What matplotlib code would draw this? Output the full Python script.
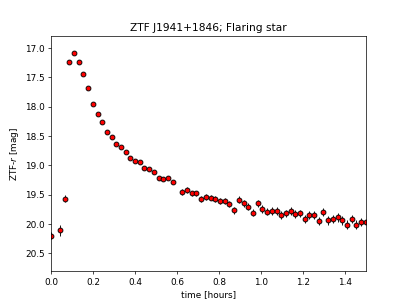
import matplotlib
matplotlib.use('Agg')
import matplotlib.pyplot as plt
import numpy as np

# light curve, time in hours since start
t_hours = [0.000, 0.043, 0.067, 0.088, 0.110, 0.133, 0.155, 0.177, 0.200, 0.222,
           0.244, 0.267, 0.289, 0.311, 0.334, 0.356, 0.378, 0.400, 0.423, 0.445,
           0.468, 0.490, 0.512, 0.535, 0.557, 0.579, 0.625, 0.648, 0.670, 0.692,
           0.714, 0.737, 0.760, 0.782, 0.804, 0.827, 0.849, 0.872, 0.894, 0.916,
           0.938, 0.961, 0.983, 1.006, 1.028, 1.050, 1.073, 1.095, 1.117, 1.140,
           1.162, 1.184, 1.207, 1.229, 1.251, 1.274, 1.296, 1.318, 1.341, 1.363,
           1.385, 1.408, 1.430, 1.452, 1.475, 1.497]
mag = [20.20, 20.11, 19.57, 17.23, 17.08, 17.23, 17.45, 17.68, 17.96, 18.13,
       18.26, 18.43, 18.51, 18.63, 18.69, 18.77, 18.87, 18.93, 18.95, 19.05,
       19.07, 19.12, 19.22, 19.23, 19.21, 19.28, 19.46, 19.42, 19.48, 19.48,
       19.58, 19.54, 19.55, 19.58, 19.61, 19.61, 19.66, 19.77, 19.59, 19.65,
       19.71, 19.81, 19.65, 19.74, 19.79, 19.78, 19.78, 19.85, 19.82, 19.78,
       19.83, 19.82, 19.92, 19.85, 19.85, 19.95, 19.80, 19.94, 19.92, 19.89,
       19.94, 20.01, 19.91, 20.01, 19.97, 19.96]
mag_err = [0.06, 0.09, 0.06, 0.01, 0.01, 0.01, 0.01, 0.01, 0.015, 0.015,
           0.015, 0.02, 0.02, 0.02, 0.02, 0.02, 0.025, 0.025, 0.025, 0.03,
           0.03, 0.03, 0.03, 0.03, 0.03, 0.035, 0.05, 0.05, 0.05, 0.05,
           0.05, 0.05, 0.05, 0.05, 0.055, 0.055, 0.055, 0.055, 0.06, 0.06,
           0.06, 0.06, 0.06, 0.065, 0.065, 0.065, 0.065, 0.065, 0.065, 0.065,
           0.065, 0.065, 0.07, 0.07, 0.07, 0.07, 0.07, 0.07, 0.07, 0.07,
           0.07, 0.07, 0.07, 0.07, 0.07, 0.07]

fig = plt.figure(figsize = (6.4, 4.8), dpi = 63.6)
plt.errorbar(t_hours, mag, yerr = mag_err, fmt = 'o', color = 'red', ecolor = 'black',
             markeredgecolor = 'black', markersize = 5.5, markeredgewidth = 1, elinewidth = 1)
plt.xlim(0, 1.5)
plt.ylim(20.81, 16.8)
plt.xlabel('time [hours]')
plt.ylabel('ZTF-$r$ [mag]')
plt.title('ZTF J1941+1846; Flaring star')
fig.savefig('out.png', dpi = 63.6)
